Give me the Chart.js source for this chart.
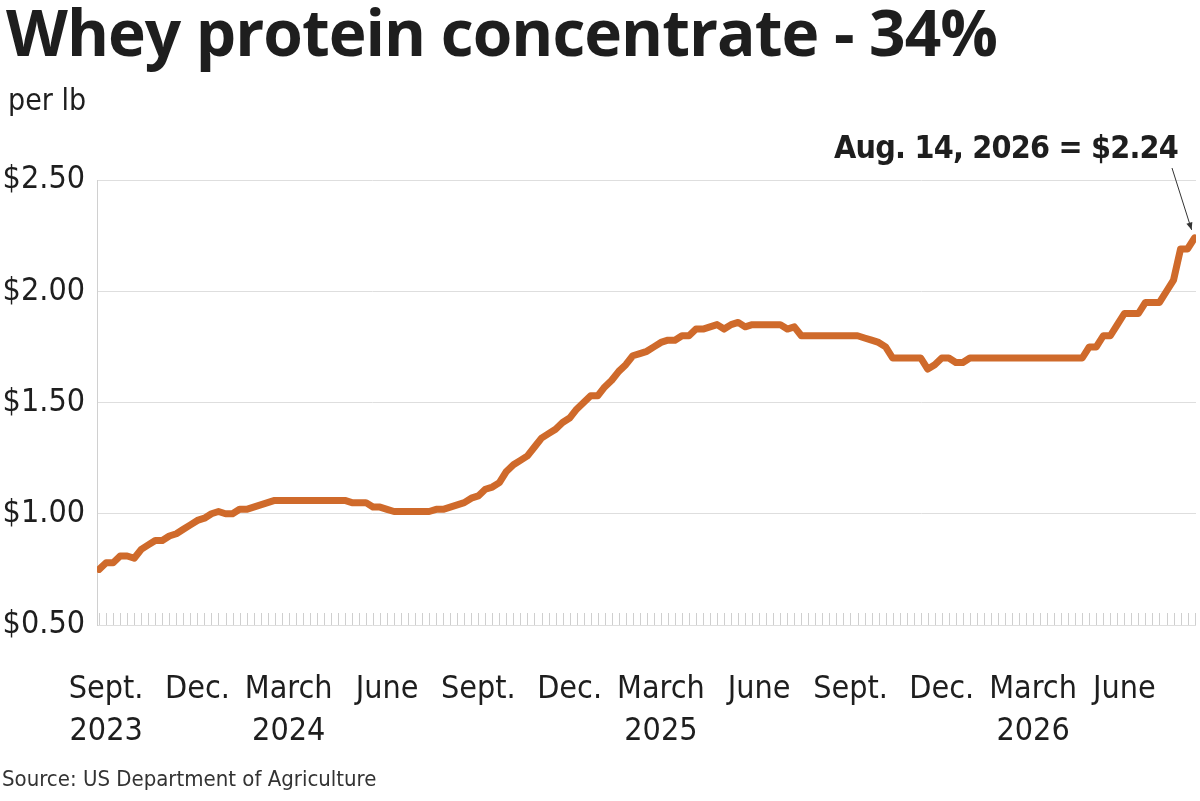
<!DOCTYPE html>
<html>
<head>
<meta charset="utf-8">
<script src="https://cdn.jsdelivr.net/npm/chart.js@4.4.1/dist/chart.umd.min.js"></script>
<style>
  body { margin: 0; background: #fff; }
  #wrap { position: relative; width: 1200px; height: 801px; }
  canvas { position: absolute; left: 0; top: 0; }
  .t { position: absolute; color: #1e1e1e; white-space: nowrap; }
  #title { left: 6px; top: -12px; font: 700 64px "Open Sans", sans-serif; letter-spacing: -1px; }
  #unit { left: 8px; top: 82px; font: 30px "Liberation Sans Narrow", "DejaVu Sans Condensed", sans-serif; }
  #note { right: 22px; top: 128px; font: 700 32px "Liberation Sans Narrow", "DejaVu Sans Condensed", sans-serif; letter-spacing: -0.8px; }
  #src { left: 2px; top: 766px; font: 22px "Liberation Sans Narrow", "DejaVu Sans Condensed", sans-serif; color: #333; }
</style>
</head>
<body>
<div id="wrap">
  <canvas id="myChart" width="1200" height="801"></canvas>
  <div class="t" id="title">Whey protein concentrate - 34%</div>
  <div class="t" id="unit">per lb</div>
  <div class="t" id="note">Aug. 14, 2026 = $2.24</div>
  <div class="t" id="src">Source: US Department of Agriculture</div>
</div>
<script>
// weekly prices, $/lb, Aug 2023 .. Aug 14, 2026
const prices = [
  0.75, 0.78, 0.78, 0.81, 0.81, 0.80, 0.84, 0.86, 0.88, 0.88,
  0.90, 0.91, 0.93, 0.95, 0.97, 0.98, 1.00, 1.01, 1.00, 1.00,
  1.02, 1.02, 1.03, 1.04, 1.05, 1.06, 1.06, 1.06, 1.06, 1.06,
  1.06, 1.06, 1.06, 1.06, 1.06, 1.06, 1.05, 1.05, 1.05, 1.03,
  1.03, 1.02, 1.01, 1.01, 1.01, 1.01, 1.01, 1.01, 1.02, 1.02,
  1.03, 1.04, 1.05, 1.07, 1.08, 1.11, 1.12, 1.14, 1.19, 1.22,
  1.24, 1.26, 1.30, 1.34, 1.36, 1.38, 1.41, 1.43, 1.47, 1.50,
  1.53, 1.53, 1.57, 1.60, 1.64, 1.67, 1.71, 1.72, 1.73, 1.75,
  1.77, 1.78, 1.78, 1.80, 1.80, 1.83, 1.83, 1.84, 1.85, 1.83,
  1.85, 1.86, 1.84, 1.85, 1.85, 1.85, 1.85, 1.85, 1.83, 1.84,
  1.80, 1.80, 1.80, 1.80, 1.80, 1.80, 1.80, 1.80, 1.80, 1.79,
  1.78, 1.77, 1.75, 1.70, 1.70, 1.70, 1.70, 1.70, 1.65, 1.67,
  1.70, 1.70, 1.68, 1.68, 1.70, 1.70, 1.70, 1.70, 1.70, 1.70,
  1.70, 1.70, 1.70, 1.70, 1.70, 1.70, 1.70, 1.70, 1.70, 1.70,
  1.70, 1.75, 1.75, 1.80, 1.80, 1.85, 1.90, 1.90, 1.90, 1.95,
  1.95, 1.95, 2.00, 2.05, 2.19, 2.19, 2.24
];
const weeks = prices.map((_, i) => i);

// quarter labels and the week they sit on
const tickWeeks = [1, 14, 27, 41, 54, 67, 80, 94, 107, 120, 133, 146];
const tickText = [
  ['Sept.', '2023'], 'Dec.', ['March', '2024'], 'June',
  'Sept.', 'Dec.', ['March', '2025'], 'June',
  'Sept.', 'Dec.', ['March', '2026'], 'June'
];
const yTicks = [0.5, 1.0, 1.5, 2.0, 2.5];

const narrow = '"Liberation Sans Narrow", "DejaVu Sans Condensed", sans-serif';

const weekTicks = {
  id: 'weekTicks',
  afterDraw(chart) {
    const c = chart.ctx, x = chart.scales.x, bottom = chart.chartArea.bottom;
    c.save();
    c.strokeStyle = '#cfcfcf';
    c.lineWidth = 1;
    weeks.forEach(w => {
      const px = Math.round(x.getPixelForValue(w)) + 0.5;
      c.beginPath();
      c.moveTo(px, bottom);
      c.lineTo(px, bottom - 12);
      c.stroke();
    });
    // pointer to last value
    c.strokeStyle = '#333';
    c.fillStyle = '#333';
    const ex = x.getPixelForValue(weeks[weeks.length - 1]) - 3;
    const ey = chart.scales.y.getPixelForValue(prices[prices.length - 1]) - 8;
    c.beginPath();
    c.moveTo(1172, 168);
    c.lineTo(ex, ey);
    c.stroke();
    const a = Math.atan2(ey - 168, ex - 1172);
    c.beginPath();
    c.moveTo(ex, ey);
    c.lineTo(ex - 8 * Math.cos(a - 0.4), ey - 8 * Math.sin(a - 0.4));
    c.lineTo(ex - 8 * Math.cos(a + 0.4), ey - 8 * Math.sin(a + 0.4));
    c.fill();
    c.restore();
  }
};

new Chart(document.getElementById('myChart'), {
  type: 'line',
  data: {
    labels: weeks,
    datasets: [{
      data: prices,
      borderColor: '#cf6a2b',
      borderWidth: 7,
      pointRadius: 0,
      tension: 0,
      borderJoinStyle: 'round',
      borderCapStyle: 'round'
    }]
  },
  options: {
    responsive: false,
    animation: false,
    layout: { padding: { top: 180, right: 4, left: 0, bottom: 0 } },
    plugins: { legend: { display: false }, tooltip: { enabled: false } },
    scales: {
      x: {
        type: 'linear',
        min: -0.3,
        max: weeks.length - 1 + 0.2,
        afterFit(s) { s.height = 176; },
        afterBuildTicks(s) { s.ticks = tickWeeks.map(v => ({ value: v })); },
        grid: { display: false },
        border: { display: false },
        ticks: {
          autoSkip: false,
          maxRotation: 0,
          padding: 36,
          color: '#1e1e1e',
          font: { family: narrow, size: 32, lineHeight: 1.3 },
          callback: (v) => tickText[tickWeeks.indexOf(v)]
        }
      },
      y: {
        min: 0.5,
        max: 2.5,
        afterFit(s) { s.width = 97; },
        afterBuildTicks(s) { s.ticks = yTicks.map(v => ({ value: v })); },
        grid: { color: '#dedede', drawTicks: false },
        border: { color: '#d0d0d0' },
        ticks: {
          padding: 12,
          color: '#1e1e1e',
          font: { family: narrow, size: 32 },
          callback: (v) => '$' + v.toFixed(2)
        }
      }
    }
  },
  plugins: [weekTicks]
});
</script>
</body>
</html>
